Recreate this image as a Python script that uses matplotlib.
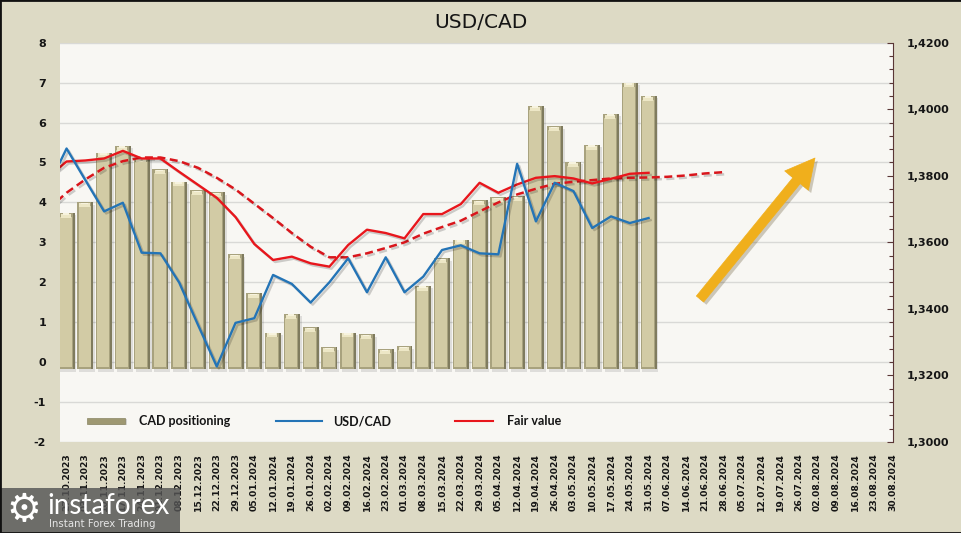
import numpy as np
import matplotlib
matplotlib.use("Agg")
import matplotlib.pyplot as plt
from matplotlib.patches import Rectangle, FancyArrowPatch, ArrowStyle
from matplotlib.lines import Line2D
import matplotlib.patheffects as pe

# ---------------- data ----------------
dates = ["27.10.2023", "03.11.2023", "10.11.2023", "17.11.2023", "24.11.2023",
         "01.12.2023", "08.12.2023", "15.12.2023", "22.12.2023", "29.12.2023",
         "05.01.2024", "12.01.2024", "19.01.2024", "26.01.2024", "02.02.2024",
         "09.02.2024", "16.02.2024", "23.02.2024", "01.03.2024", "08.03.2024",
         "15.03.2024", "22.03.2024", "29.03.2024", "05.04.2024", "12.04.2024",
         "19.04.2024", "26.04.2024", "03.05.2024", "10.05.2024", "17.05.2024",
         "24.05.2024", "31.05.2024", "07.06.2024", "14.06.2024", "21.06.2024",
         "28.06.2024", "05.07.2024", "12.07.2024", "19.07.2024", "26.07.2024",
         "02.08.2024", "09.08.2024", "16.08.2024", "23.08.2024", "30.08.2024"]

cad_positioning = [3.74, 4.00, 5.25, 5.42, 5.12, 4.83, 4.52, 4.30, 4.25, 2.70,
                   1.72, 0.74, 1.21, 0.87, 0.37, 0.74, 0.70, 0.32, 0.40, 1.91,
                   2.60, 3.07, 4.05, 4.13, 4.15, 6.42, 5.91, 5.01, 5.44, 6.22,
                   7.00, 6.67]

# line series start one week before the first category (clipped at the left edge)
usdcad = [1.3765, 1.3882, 1.3787, 1.3693, 1.3719, 1.3569, 1.3567, 1.3479, 1.3352,
          1.3227, 1.3358, 1.3372, 1.3502, 1.3475, 1.3419, 1.3480, 1.3552, 1.3450,
          1.3555, 1.3450, 1.3497, 1.3577, 1.3591, 1.3567, 1.3564, 1.3836, 1.3663,
          1.3779, 1.3754, 1.3643, 1.3678, 1.3658, 1.3673]

fair_value = [1.3795, 1.3843, 1.3846, 1.3852, 1.3875, 1.3852, 1.3852, 1.3812, 1.3773,
              1.3734, 1.3676, 1.3595, 1.3547, 1.3557, 1.3537, 1.3527, 1.3592, 1.3638,
              1.3628, 1.3612, 1.3685, 1.3685, 1.3715, 1.3779, 1.3749, 1.3774, 1.3794,
              1.3799, 1.3792, 1.3777, 1.3791, 1.3806, 1.3809]

fair_value_trend = [1.3699, 1.3749, 1.3789, 1.3824, 1.3844, 1.3855, 1.3855, 1.3844,
                    1.3824, 1.3794, 1.3759, 1.3716, 1.3673, 1.3628, 1.3587, 1.3555,
                    1.3555, 1.3567, 1.3583, 1.3600, 1.3626, 1.3646, 1.3665, 1.3693,
                    1.3720, 1.3744, 1.3761, 1.3776, 1.3782, 1.3787, 1.3792, 1.3794,
                    1.3795, 1.3797, 1.3801, 1.3807, 1.3811]

left_ticks = [-2, -1, 0, 1, 2, 3, 4, 5, 6, 7, 8]
right_ticks = [1.30, 1.32, 1.34, 1.36, 1.38, 1.40, 1.42]
legend_labels = ["CAD positioning", "USD/CAD", "Fair value"]
title_text = "USD/CAD"

# ---------------- style ----------------
W, H = 962, 533
BG = "#DDDAC5"
PLOT_BG = "#F8F7F3"
BLUE = "#2474B6"
RED = "#E8161C"
RED_D = "#D9161C"
TXT = "#151515"

fig = plt.figure(figsize=(W / 100, H / 100), dpi=100, facecolor=BG)
ax = fig.add_axes([60 / W, 1 - 442 / H, 833 / W, 399.3 / H])
ax.set_facecolor(PLOT_BG)
ax.set_zorder(1)
ax2 = ax.twinx()
ax2.set_zorder(2)
ax2.patch.set_visible(False)

n = len(dates)
ax.set_xlim(-0.35, n - 1 + 0.02)
ax.set_ylim(left_ticks[0], left_ticks[-1])
ax2.set_ylim(right_ticks[0], right_ticks[-1])

# grid
ax.set_yticks(left_ticks)
ax.yaxis.grid(True, color="#D9D9D6", lw=1.0)
ax.set_axisbelow(True)

# ---------------- bars (bevelled look) ----------------
x = np.arange(len(cad_positioning))
vals = np.array(cad_positioning)
base = -0.18
bw = 0.85
ax.bar(x + 0.10, vals - base, bottom=base - 0.06, width=bw, color="#000000", alpha=0.10, zorder=1.5)
ax.bar(x, vals - base, bottom=base, width=bw, color="#7F7B5E", zorder=2)
ax.bar(x - 0.05, vals - base, bottom=base, width=bw - 0.10, color="#A8A27E", zorder=2.1)
ax.bar(x - 0.04, vals - base - 0.16, bottom=base + 0.06, width=bw - 0.22, color="#D2CBA5", zorder=2.2)
ax.bar(x - 0.04, np.full_like(vals, 0.10), bottom=vals - 0.12, width=bw - 0.30, color="#EDE7C6", zorder=2.3)
ax.bar(x - 0.04, np.full_like(vals, 0.04), bottom=vals - 0.05, width=bw - 0.50, color="#F7F3DE", zorder=2.4)

# ---------------- lines ----------------
shadow = [pe.SimpleLineShadow(offset=(1.5, -1.5), alpha=0.18, shadow_color="k"), pe.Normal()]
xl_u = np.arange(len(usdcad)) - 1
xl_f = np.arange(len(fair_value)) - 1
xl_t = np.arange(len(fair_value_trend)) - 1
ax2.plot(xl_t, fair_value_trend, color=RED_D, lw=1.8, ls=(0, (3.2, 1.8)), path_effects=shadow, zorder=3)
ax2.plot(xl_f, fair_value, color=RED, lw=1.7, path_effects=shadow, zorder=4)
ax2.plot(xl_u, usdcad, color=BLUE, lw=1.7, path_effects=shadow, zorder=5)

# ---------------- axes / ticks ----------------
ax.set_xticks(np.arange(n))
ax.set_xticklabels(dates, rotation=90, fontsize=6.6, fontweight="bold", color=TXT)
ax.tick_params(axis="x", length=0, pad=8)
ax.set_yticklabels([str(v) for v in left_ticks], fontsize=8, fontweight="bold", color=TXT)
ax.tick_params(axis="y", length=0, pad=10)
for s in ax.spines.values():
    s.set_visible(False)

ax2.set_yticks(right_ticks)
ax2.set_yticklabels([f"{v:.4f}".replace(".", ",") for v in right_ticks],
                    fontsize=8, fontweight="bold", color=TXT)
ax2.set_yticks(np.arange(1.30, 1.4201, 0.004), minor=True)
ax2.tick_params(axis="y", which="major", direction="in", length=4, width=0.8, color="#5A3636", pad=10)
ax2.tick_params(axis="y", which="minor", direction="in", length=3, width=0.8, color="#5A3636")
for k, s in ax2.spines.items():
    s.set_visible(k == "right")
ax2.spines["right"].set_color("#5A3636")
ax2.spines["right"].set_linewidth(0.8)

# ---------------- title ----------------
fig.text(481 / W, 1 - 22 / H, title_text, ha="center", va="center", fontsize=14.5, color=TXT)

# ---------------- legend (manual) ----------------
ly = 1 - 421 / H
fig.patches.append(Rectangle((89 / W, 1 - 425 / H), 38 / W, 6 / H, transform=fig.transFigure,
                             facecolor="#000000", alpha=0.15, zorder=5))
fig.patches.append(Rectangle((87 / W, 1 - 424 / H), 38 / W, 6 / H, transform=fig.transFigure,
                             facecolor="#9E9872", edgecolor="#8A8563", lw=0.5, zorder=6))
fig.lines.append(Line2D([276 / W, 322 / W], [ly, ly], transform=fig.transFigure, color=BLUE, lw=1.5, zorder=6))
fig.lines.append(Line2D([455 / W, 493 / W], [ly, ly], transform=fig.transFigure, color=RED, lw=1.5, zorder=6))
for xx, lab in zip([139, 333, 507], legend_labels):
    fig.text(xx / W, ly, lab, ha="left", va="center", fontsize=9, fontweight="bold",
             family=["Lato", "DejaVu Sans"], color=TXT, zorder=7)

# ---------------- arrow ----------------
arrow = FancyArrowPatch((700 / W, 1 - 299 / H), (815 / W, 1 - 158 / H), transform=fig.transFigure,
                        arrowstyle=ArrowStyle.Simple(head_length=21, head_width=22, tail_width=6.8),
                        mutation_scale=1, shrinkA=0, shrinkB=0, facecolor="#F0AF1C", edgecolor="#F0AF1C",
                        lw=0.5, capstyle="round", zorder=10,
                        path_effects=[pe.SimplePatchShadow(offset=(2, -2), alpha=0.25), pe.Normal()])
fig.patches.append(arrow)

# ---------------- watermark ----------------
fig.patches.append(Rectangle((0, 0), 180 / W, 45 / H, transform=fig.transFigure,
                             facecolor="#555555", alpha=0.82, edgecolor="none", zorder=20))
fig.text(24 / W, 1 - 510 / H, "\u2699", ha="center", va="center", fontsize=28, color="white",
         family="DejaVu Sans", zorder=21)
fig.text(47 / W, 1 - 506 / H, "instaforex", ha="left", va="center", fontsize=20, color="white",
         family=["Lato", "DejaVu Sans"], zorder=21)
fig.text(49 / W, 1 - 524 / H, "Instant Forex Trading", ha="left", va="center", fontsize=7.3,
         color="#E6E6E6", family=["DejaVu Sans"], zorder=21)

# ---------------- frame ----------------
fig.patches.append(Rectangle((0, 0), 1, 1, transform=fig.transFigure, fill=False,
                             edgecolor="#111111", lw=2.0, zorder=30))

fig.savefig("out.png", dpi=100, facecolor=BG)
